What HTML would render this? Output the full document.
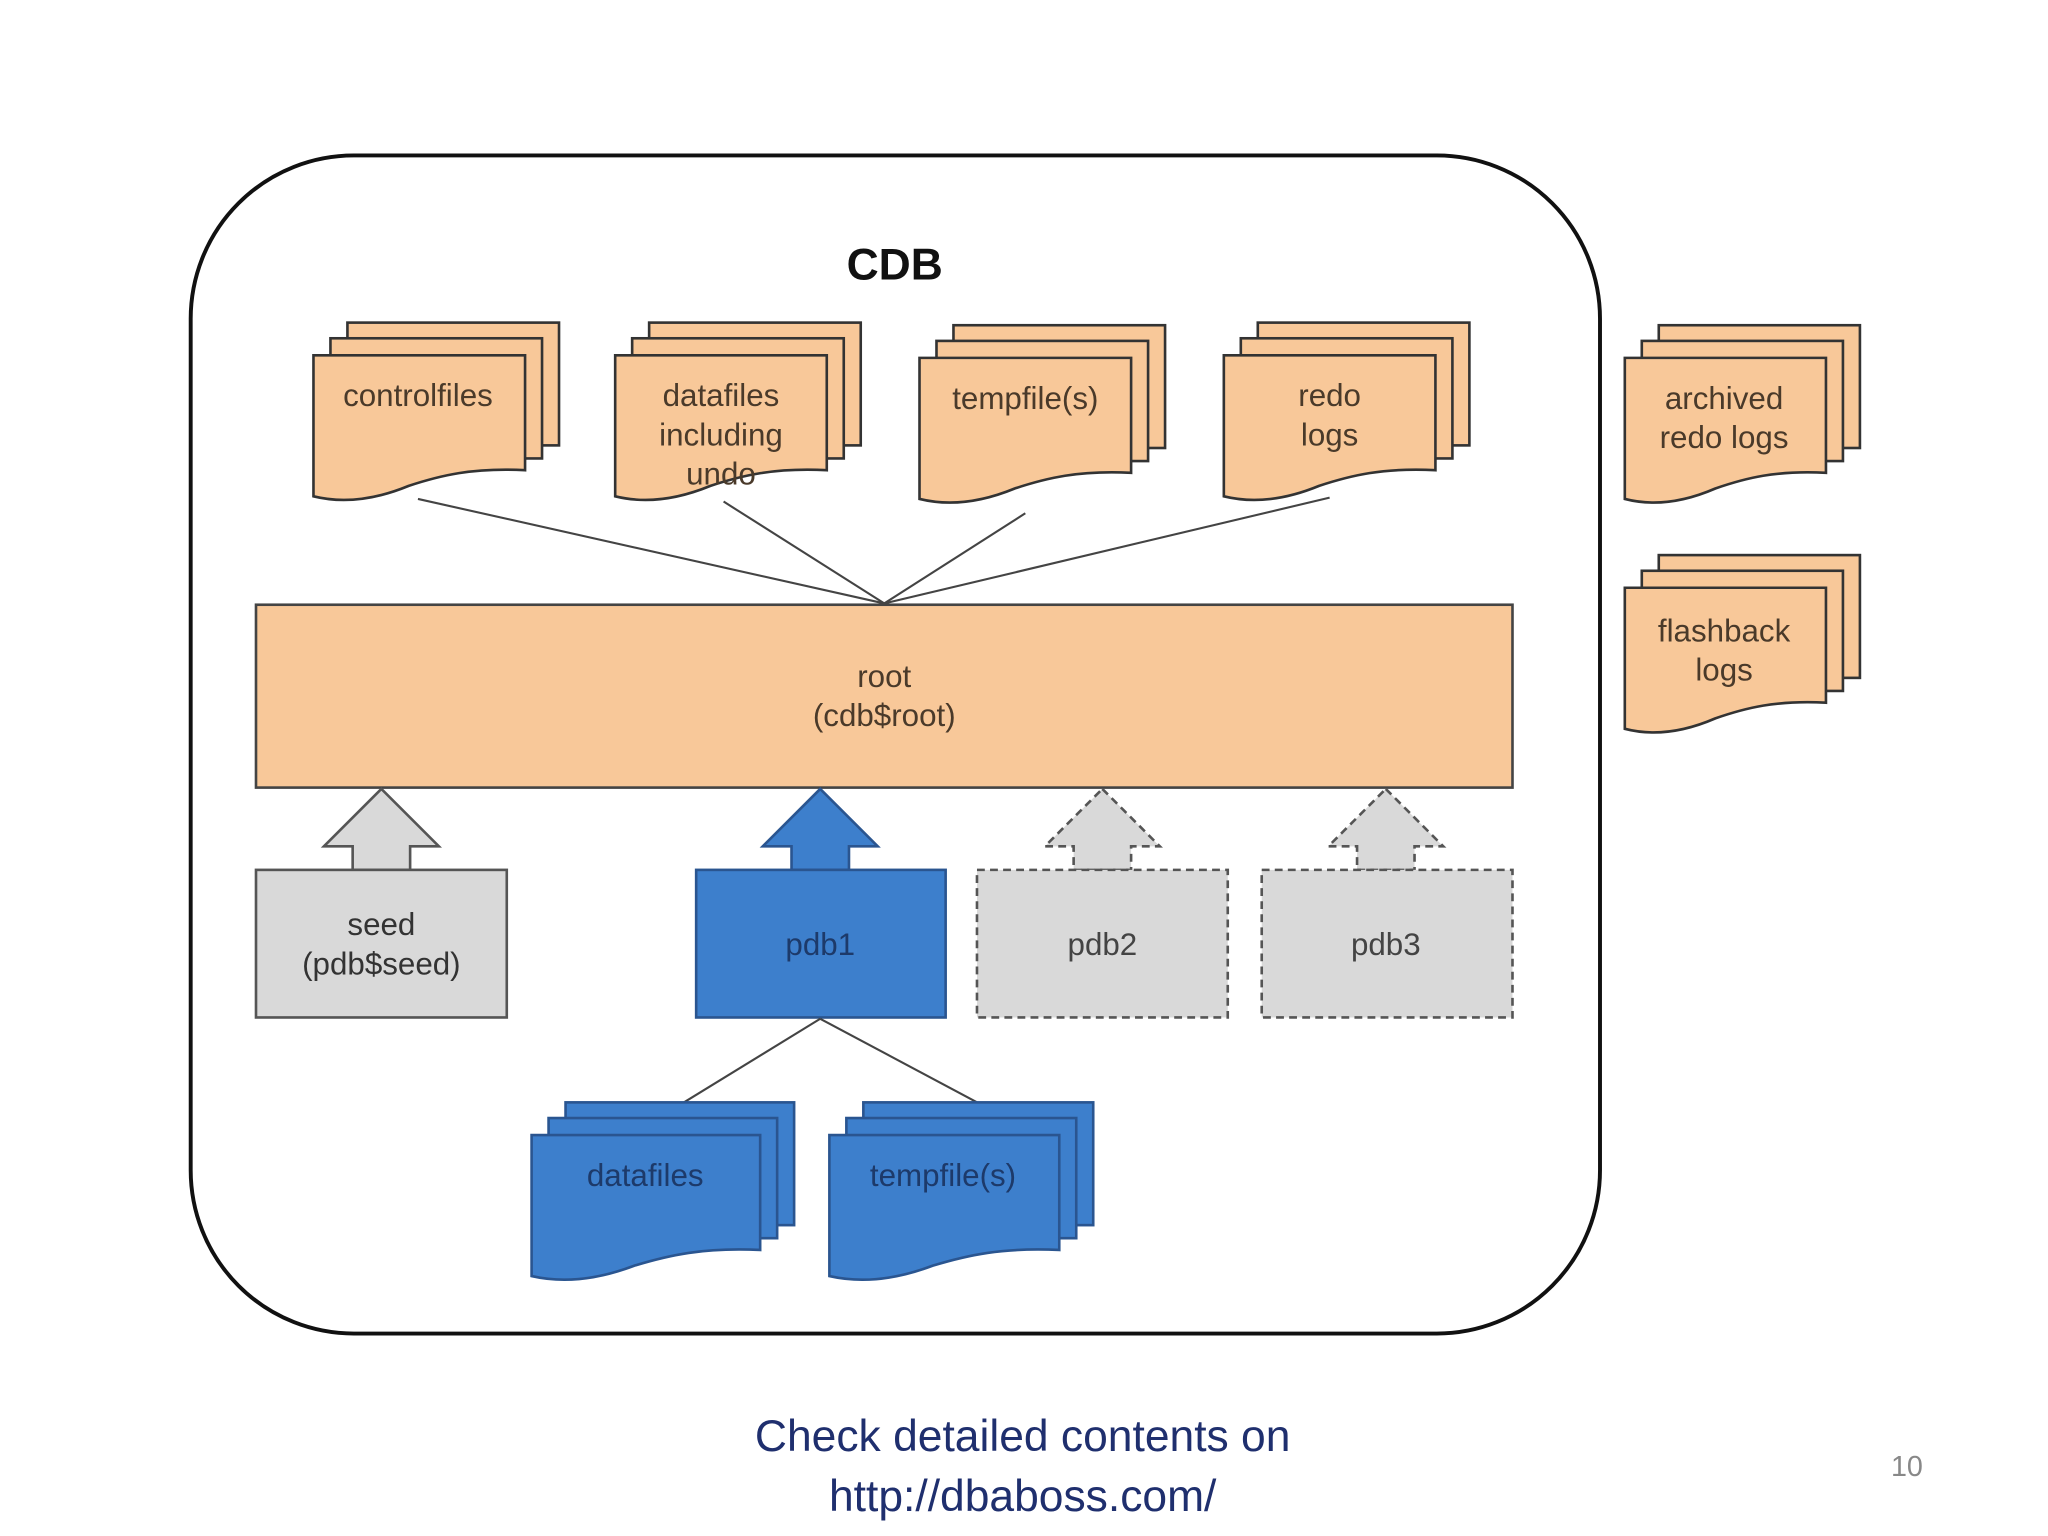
<!DOCTYPE html>
<html><head><meta charset="utf-8"><style>
html,body{margin:0;padding:0;background:#fff;}
svg{display:block;}
text{font-family:"Liberation Sans",sans-serif;}
</style></head><body>
<svg width="2048" height="1536" viewBox="0 0 1568 1176" xmlns="http://www.w3.org/2000/svg">
<rect x="146" y="119" width="1079" height="902" rx="125" ry="125" fill="#fff" stroke="#111" stroke-width="3"/>
<g id="shapes"></g>
<g fill="#4a3a2a" font-size="24" text-anchor="middle">
<text x="685" y="214" font-size="34" font-weight="bold" fill="#111">CDB</text>
<text x="320" y="311">controlfiles</text>
<text x="552" y="311">datafiles</text>
<text x="552" y="341">including</text>
<text x="552" y="371">undo</text>
<text x="785" y="313">tempfile(s)</text>
<text x="1018" y="311">redo</text>
<text x="1018" y="341">logs</text>
<text x="1320" y="313">archived</text>
<text x="1320" y="343">redo logs</text>
<text x="1320" y="491">flashback</text>
<text x="1320" y="521">logs</text>
<text x="677" y="526">root</text>
<text x="677" y="556">(cdb$root)</text>
<text x="292" y="716" fill="#333">seed</text>
<text x="292" y="746" fill="#333">(pdb$seed)</text>
<text x="628" y="731" fill="#1d3a6a">pdb1</text>
<text x="844" y="731" fill="#444">pdb2</text>
<text x="1061" y="731" fill="#444">pdb3</text>
<text x="494" y="908" fill="#1d3a6a">datafiles</text>
<text x="722" y="908" fill="#1d3a6a">tempfile(s)</text>
</g>
<g font-family="'Liberation Sans',sans-serif" fill="#1f2f6e" font-size="34" text-anchor="middle">
<text x="783" y="1111">Check detailed contents on</text>
<text x="783" y="1157">http://dbaboss.com/</text>
</g>
<text x="1460" y="1130" font-size="22" fill="#888" text-anchor="middle">10</text>
</svg>
<script>
var g=document.getElementById('shapes'),s='';
var OR='#f8c899',BL='#3d7fcc',GR='#d9d9d9';
function doc(x,y,w,fill,st){
 // back sheets
 s+='<rect x="'+(x+26)+'" y="'+(y-25)+'" width="'+w+'" height="94" fill="'+fill+'" stroke="'+st+'" stroke-width="2"/>';
 s+='<rect x="'+(x+13)+'" y="'+(y-13)+'" width="'+w+'" height="92" fill="'+fill+'" stroke="'+st+'" stroke-width="2"/>';
 var r=x+w;
 s+='<path d="M'+x+' '+y+' H'+r+' V'+(y+88)+' C'+(x+w*0.75)+' '+(y+86)+' '+(x+w*0.6)+' '+(y+92)+' '+(x+w*0.45)+' '+(y+100)+' C'+(x+w*0.3)+' '+(y+110)+' '+(x+w*0.15)+' '+(y+114)+' '+x+' '+(y+108)+' Z" fill="'+fill+'" stroke="'+st+'" stroke-width="2"/>';
}
// connectors top
[[320,382],[554,384],[785,393],[1018,381]].forEach(function(p){s+='<line x1="'+p[0]+'" y1="'+p[1]+'" x2="677" y2="462" stroke="#444" stroke-width="1.6"/>';});
doc(240,272,162,OR,'#333');doc(471,272,162,OR,'#333');doc(704,274,162,OR,'#333');doc(937,272,162,OR,'#333');
doc(1244,274,154,OR,'#333');doc(1244,450,154,OR,'#333');
s+='<rect x="196" y="463" width="962" height="140" fill="'+OR+'" stroke="#444" stroke-width="2"/>';
function arrow(cx,fill,st,dash){
 s+='<path d="M'+cx+' 604 L'+(cx+44)+' 648 H'+(cx+22)+' V666 H'+(cx-22)+' V648 H'+(cx-44)+' Z" fill="'+fill+'" stroke="'+st+'" stroke-width="2"'+(dash?' stroke-dasharray="6 4"':'')+'/>';
}
arrow(292,GR,'#555',0);arrow(628,BL,'#2a5590',0);arrow(844,GR,'#555',1);arrow(1061,GR,'#555',1);
s+='<rect x="196" y="666" width="192" height="113" fill="'+GR+'" stroke="#555" stroke-width="2"/>';
s+='<rect x="533" y="666" width="191" height="113" fill="'+BL+'" stroke="#2a5590" stroke-width="2"/>';
s+='<rect x="748" y="666" width="192" height="113" fill="'+GR+'" stroke="#555" stroke-width="2" stroke-dasharray="6 4"/>';
s+='<rect x="966" y="666" width="192" height="113" fill="'+GR+'" stroke="#555" stroke-width="2" stroke-dasharray="6 4"/>';
s+='<line x1="628" y1="780" x2="522" y2="845" stroke="#444" stroke-width="1.6"/><line x1="628" y1="780" x2="750" y2="845" stroke="#444" stroke-width="1.6"/>';
doc(407,869,175,BL,'#2a5590');doc(635,869,176,BL,'#2a5590');
g.innerHTML=s;
</script>
</body></html>
